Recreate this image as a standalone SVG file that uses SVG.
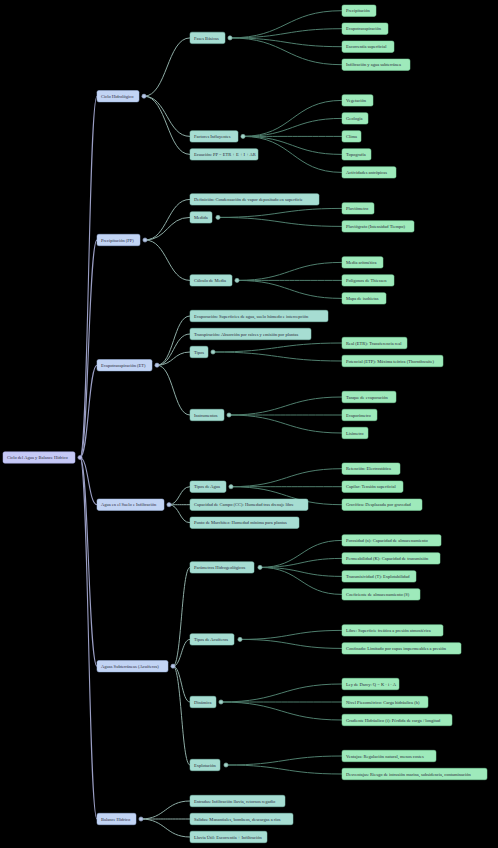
<svg xmlns="http://www.w3.org/2000/svg" width="498" height="848" viewBox="0 0 498 848">
<style>
.bg{fill:#000}
rect.n0{fill:#c6c9f6;stroke:#a9adea;stroke-width:.5}
rect.n1{fill:#c2d4f4;stroke:#a5bde8;stroke-width:.5}
rect.n2{fill:#a6ddd2;stroke:#86c9bb;stroke-width:.5}
rect.n3{fill:#9eeabb;stroke:#7dd9a0;stroke-width:.5}
text{font-family:"Liberation Serif","Times New Roman",serif;font-size:4.5px;fill:#2b2b3a}
.l0{fill:none;stroke:#9a9ec4;stroke-width:1.1}
.l1{fill:none;stroke:#8eaca5;stroke-width:1}
.l2{fill:none;stroke:#4f7e6d;stroke-width:1}
circle.d0{fill:#b8bce8;stroke:#8a8fb8;stroke-width:.6}
circle.d1{fill:#b6c6e6;stroke:#8b9cbc;stroke-width:.6}
circle.d2{fill:#9fd3c8;stroke:#7faaa0;stroke-width:.6}
</style>
<rect class="bg" x="0" y="0" width="498" height="848"/>
<g id="connectors">
<path class="l0" d="M80,457.5 C88.5,457.5 88.5,96.2 97,96.2"/>
<path class="l0" d="M80,457.5 C88.5,457.5 88.5,240 97,240"/>
<path class="l0" d="M80,457.5 C88.5,457.5 88.5,365.2 97,365.2"/>
<path class="l0" d="M80,457.5 C88.5,457.5 88.5,504.7 97,504.7"/>
<path class="l0" d="M80,457.5 C88.5,457.5 88.5,666.2 97,666.2"/>
<path class="l0" d="M80,457.5 C88.5,457.5 88.5,819 97,819"/>
<path class="l1" d="M144,96.2 C167,96.2 167,37.9 190,37.9"/>
<path class="l1" d="M144,96.2 C167,96.2 167,136.4 190,136.4"/>
<path class="l1" d="M144,96.2 C167,96.2 167,154.4 190,154.4"/>
<path class="l1" d="M145,240 C167.5,240 167.5,199.4 190,199.4"/>
<path class="l1" d="M145,240 C167.5,240 167.5,217.4 190,217.4"/>
<path class="l1" d="M145,240 C167.5,240 167.5,280.4 190,280.4"/>
<path class="l1" d="M157,365.2 C173.5,365.2 173.5,316 190,316"/>
<path class="l1" d="M157,365.2 C173.5,365.2 173.5,334 190,334"/>
<path class="l1" d="M157,365.2 C173.5,365.2 173.5,352 190,352"/>
<path class="l1" d="M157,365.2 C173.5,365.2 173.5,415 190,415"/>
<path class="l1" d="M169,504.7 C179.5,504.7 179.5,486.7 190,486.7"/>
<path class="l1" d="M169,504.7 C179.5,504.7 179.5,504.7 190,504.7"/>
<path class="l1" d="M169,504.7 C179.5,504.7 179.5,522.7 190,522.7"/>
<path class="l1" d="M173,666.2 C181.5,666.2 181.5,567.4 190,567.4"/>
<path class="l1" d="M173,666.2 C181.5,666.2 181.5,639.4 190,639.4"/>
<path class="l1" d="M173,666.2 C181.5,666.2 181.5,702 190,702"/>
<path class="l1" d="M173,666.2 C181.5,666.2 181.5,765 190,765"/>
<path class="l1" d="M141,819 C165.5,819 165.5,801 190,801"/>
<path class="l1" d="M141,819 C165.5,819 165.5,819 190,819"/>
<path class="l1" d="M141,819 C165.5,819 165.5,837 190,837"/>
<path class="l2" d="M230,37.9 C286,37.9 286,10.7 342,10.7"/>
<path class="l2" d="M230,37.9 C286,37.9 286,28.7 342,28.7"/>
<path class="l2" d="M230,37.9 C286,37.9 286,46.7 342,46.7"/>
<path class="l2" d="M230,37.9 C286,37.9 286,64.7 342,64.7"/>
<path class="l2" d="M243,136.4 C292.5,136.4 292.5,100.4 342,100.4"/>
<path class="l2" d="M243,136.4 C292.5,136.4 292.5,118.4 342,118.4"/>
<path class="l2" d="M243,136.4 C292.5,136.4 292.5,136.4 342,136.4"/>
<path class="l2" d="M243,136.4 C292.5,136.4 292.5,154.4 342,154.4"/>
<path class="l2" d="M243,136.4 C292.5,136.4 292.5,172.4 342,172.4"/>
<path class="l2" d="M218,217.4 C280,217.4 280,208.4 342,208.4"/>
<path class="l2" d="M218,217.4 C280,217.4 280,226.4 342,226.4"/>
<path class="l2" d="M237,280.4 C289.5,280.4 289.5,262.4 342,262.4"/>
<path class="l2" d="M237,280.4 C289.5,280.4 289.5,280.4 342,280.4"/>
<path class="l2" d="M237,280.4 C289.5,280.4 289.5,298.4 342,298.4"/>
<path class="l2" d="M213,352 C277.5,352 277.5,343 342,343"/>
<path class="l2" d="M213,352 C277.5,352 277.5,361 342,361"/>
<path class="l2" d="M229,415 C285.5,415 285.5,397 342,397"/>
<path class="l2" d="M229,415 C285.5,415 285.5,415 342,415"/>
<path class="l2" d="M229,415 C285.5,415 285.5,433 342,433"/>
<path class="l2" d="M231,486.7 C286.5,486.7 286.5,468.7 342,468.7"/>
<path class="l2" d="M231,486.7 C286.5,486.7 286.5,486.7 342,486.7"/>
<path class="l2" d="M231,486.7 C286.5,486.7 286.5,504.7 342,504.7"/>
<path class="l2" d="M260,567.4 C301,567.4 301,540.4 342,540.4"/>
<path class="l2" d="M260,567.4 C301,567.4 301,558.4 342,558.4"/>
<path class="l2" d="M260,567.4 C301,567.4 301,576.4 342,576.4"/>
<path class="l2" d="M260,567.4 C301,567.4 301,594.4 342,594.4"/>
<path class="l2" d="M240,639.4 C291,639.4 291,630.4 342,630.4"/>
<path class="l2" d="M240,639.4 C291,639.4 291,648.4 342,648.4"/>
<path class="l2" d="M221,702 C281.5,702 281.5,684 342,684"/>
<path class="l2" d="M221,702 C281.5,702 281.5,702 342,702"/>
<path class="l2" d="M221,702 C281.5,702 281.5,720 342,720"/>
<path class="l2" d="M226,765 C284,765 284,756 342,756"/>
<path class="l2" d="M226,765 C284,765 284,774 342,774"/>
</g>
<g id="root"><rect class="n0" x="3" y="451.8" width="72" height="11.4" rx="1.8"/><text x="7" y="459.1">Ciclo del Agua y Balance Hídrico</text><circle class="d0" cx="80" cy="457.5" r="2.1"/></g>
<g id="ciclo"><rect class="n1" x="97" y="90.5" width="42" height="11.4" rx="1.8"/><text x="101" y="97.8">Ciclo Hidrológico</text><circle class="d1" cx="144" cy="96.2" r="2.1"/></g>
<g id="precip"><rect class="n1" x="97" y="234.3" width="43" height="11.4" rx="1.8"/><text x="101" y="241.6">Precipitación (PP)</text><circle class="d1" cx="145" cy="240" r="2.1"/></g>
<g id="et"><rect class="n1" x="97" y="359.5" width="55" height="11.4" rx="1.8"/><text x="101" y="366.8">Evapotranspiración (ET)</text><circle class="d1" cx="157" cy="365.2" r="2.1"/></g>
<g id="suelo"><rect class="n1" x="97" y="499" width="67" height="11.4" rx="1.8"/><text x="101" y="506.3">Agua en el Suelo e Infiltración</text><circle class="d1" cx="169" cy="504.7" r="2.1"/></g>
<g id="subter"><rect class="n1" x="97" y="660.5" width="71" height="11.4" rx="1.8"/><text x="101" y="667.8">Aguas Subterráneas (Acuíferos)</text><circle class="d1" cx="173" cy="666.2" r="2.1"/></g>
<g id="balance"><rect class="n1" x="97" y="813.3" width="39" height="11.4" rx="1.8"/><text x="101" y="820.6">Balance Hídrico</text><circle class="d1" cx="141" cy="819" r="2.1"/></g>
<g id="fases"><rect class="n2" x="190" y="32.2" width="35" height="11.4" rx="1.8"/><text x="194" y="39.5">Fases Básicas</text><circle class="d2" cx="230" cy="37.9" r="2.1"/></g>
<g id="factores"><rect class="n2" x="190" y="130.7" width="48" height="11.4" rx="1.8"/><text x="194" y="138">Factores Influyentes</text><circle class="d2" cx="243" cy="136.4" r="2.1"/></g>
<g id="ecuacion"><rect class="n2" x="190" y="148.7" width="68" height="11.4" rx="1.8"/><text x="194" y="156">Ecuación: PP = ETR + E + I + AR</text></g>
<g id="definicion"><rect class="n2" x="190" y="193.7" width="129" height="11.4" rx="1.8"/><text x="194" y="201">Definición: Condensación de vapor depositado en superficie</text></g>
<g id="medida"><rect class="n2" x="190" y="211.7" width="22" height="11.4" rx="1.8"/><text x="194" y="219">Medida</text><circle class="d2" cx="218" cy="217.4" r="2.1"/></g>
<g id="calculo"><rect class="n2" x="190" y="274.7" width="42" height="11.4" rx="1.8"/><text x="194" y="282">Cálculo de Media</text><circle class="d2" cx="237" cy="280.4" r="2.1"/></g>
<g id="evaporacion"><rect class="n2" x="190" y="310.3" width="138" height="11.4" rx="1.8"/><text x="194" y="317.6">Evaporación: Superficies de agua, suelo húmedo e intercepción</text></g>
<g id="transpiracion"><rect class="n2" x="190" y="328.3" width="121" height="11.4" rx="1.8"/><text x="194" y="335.6">Transpiración: Absorción por raíces y emisión por plantas</text></g>
<g id="tipos"><rect class="n2" x="190" y="346.3" width="18" height="11.4" rx="1.8"/><text x="194" y="353.6">Tipos</text><circle class="d2" cx="213" cy="352" r="2.1"/></g>
<g id="instrumentos"><rect class="n2" x="190" y="409.3" width="34" height="11.4" rx="1.8"/><text x="194" y="416.6">Instrumentos</text><circle class="d2" cx="229" cy="415" r="2.1"/></g>
<g id="tiposagua"><rect class="n2" x="190" y="481" width="36" height="11.4" rx="1.8"/><text x="194" y="488.3">Tipos de Agua</text><circle class="d2" cx="231" cy="486.7" r="2.1"/></g>
<g id="capacidad"><rect class="n2" x="190" y="499" width="118" height="11.4" rx="1.8"/><text x="194" y="506.3">Capacidad de Campo (CC): Humedad tras drenaje libre</text></g>
<g id="marchitez"><rect class="n2" x="190" y="517" width="109" height="11.4" rx="1.8"/><text x="194" y="524.3">Punto de Marchitez: Humedad mínima para plantas</text></g>
<g id="parametros"><rect class="n2" x="190" y="561.7" width="64" height="11.4" rx="1.8"/><text x="194" y="569">Parámetros Hidrogeológicos</text><circle class="d2" cx="260" cy="567.4" r="2.1"/></g>
<g id="tiposacuiferos"><rect class="n2" x="190" y="633.7" width="44" height="11.4" rx="1.8"/><text x="194" y="641">Tipos de Acuíferos</text><circle class="d2" cx="240" cy="639.4" r="2.1"/></g>
<g id="dinamica"><rect class="n2" x="190" y="696.3" width="26" height="11.4" rx="1.8"/><text x="194" y="703.6">Dinámica</text><circle class="d2" cx="221" cy="702" r="2.1"/></g>
<g id="explotacion"><rect class="n2" x="190" y="759.3" width="30" height="11.4" rx="1.8"/><text x="194" y="766.6">Explotación</text><circle class="d2" cx="226" cy="765" r="2.1"/></g>
<g id="entradas"><rect class="n2" x="190" y="795.3" width="95" height="11.4" rx="1.8"/><text x="194" y="802.6">Entradas: Infiltración lluvia, retornos regadío</text></g>
<g id="salidas"><rect class="n2" x="190" y="813.3" width="103" height="11.4" rx="1.8"/><text x="194" y="820.6">Salidas: Manantiales, bombeos, descargas a ríos</text></g>
<g id="lluviautil"><rect class="n2" x="190" y="831.3" width="77" height="11.4" rx="1.8"/><text x="194" y="838.6">Lluvia Útil: Escorrentía + Infiltración</text></g>
<g id="l3-precipitacion"><rect class="n3" x="342" y="5" width="34" height="11.4" rx="1.8"/><text x="346" y="12.3">Precipitación</text></g>
<g id="l3-evapotranspiracion"><rect class="n3" x="342" y="23" width="46" height="11.4" rx="1.8"/><text x="346" y="30.3">Evapotranspiración</text></g>
<g id="l3-escorrentia"><rect class="n3" x="342" y="41" width="52" height="11.4" rx="1.8"/><text x="346" y="48.3">Escorrentía superficial</text></g>
<g id="l3-infiltracion"><rect class="n3" x="342" y="59" width="68" height="11.4" rx="1.8"/><text x="346" y="66.3">Infiltración y agua subterránea</text></g>
<g id="l3-vegetacion"><rect class="n3" x="342" y="94.7" width="31" height="11.4" rx="1.8"/><text x="346" y="102">Vegetación</text></g>
<g id="l3-geologia"><rect class="n3" x="342" y="112.7" width="26" height="11.4" rx="1.8"/><text x="346" y="120">Geología</text></g>
<g id="l3-clima"><rect class="n3" x="342" y="130.7" width="19" height="11.4" rx="1.8"/><text x="346" y="138">Clima</text></g>
<g id="l3-topografia"><rect class="n3" x="342" y="148.7" width="29" height="11.4" rx="1.8"/><text x="346" y="156">Topografía</text></g>
<g id="l3-antropicas"><rect class="n3" x="342" y="166.7" width="54" height="11.4" rx="1.8"/><text x="346" y="174">Actividades antrópicas</text></g>
<g id="l3-pluviometro"><rect class="n3" x="342" y="202.7" width="32" height="11.4" rx="1.8"/><text x="346" y="210">Pluviómetro</text></g>
<g id="l3-pluviografo"><rect class="n3" x="342" y="220.7" width="72" height="11.4" rx="1.8"/><text x="346" y="228">Pluviógrafo (Intensidad Tiempo)</text></g>
<g id="l3-aritmetica"><rect class="n3" x="342" y="256.7" width="41" height="11.4" rx="1.8"/><text x="346" y="264">Media aritmética</text></g>
<g id="l3-thiessen"><rect class="n3" x="342" y="274.7" width="52" height="11.4" rx="1.8"/><text x="346" y="282">Polígonos de Thiessen</text></g>
<g id="l3-isohietas"><rect class="n3" x="342" y="292.7" width="44" height="11.4" rx="1.8"/><text x="346" y="300">Mapa de isohietas</text></g>
<g id="l3-etr"><rect class="n3" x="342" y="337.3" width="65" height="11.4" rx="1.8"/><text x="346" y="344.6">Real (ETR): Transferencia real</text></g>
<g id="l3-etp"><rect class="n3" x="342" y="355.3" width="101" height="11.4" rx="1.8"/><text x="346" y="362.6">Potencial (ETP): Máxima teórica (Thornthwaite)</text></g>
<g id="l3-tanque"><rect class="n3" x="342" y="391.3" width="54" height="11.4" rx="1.8"/><text x="346" y="398.6">Tanque de evaporación</text></g>
<g id="l3-evaporimetro"><rect class="n3" x="342" y="409.3" width="35" height="11.4" rx="1.8"/><text x="346" y="416.6">Evaporímetro</text></g>
<g id="l3-lisimetro"><rect class="n3" x="342" y="427.3" width="26" height="11.4" rx="1.8"/><text x="346" y="434.6">Lisímetro</text></g>
<g id="l3-retencion"><rect class="n3" x="342" y="463" width="58" height="11.4" rx="1.8"/><text x="346" y="470.3">Retención: Electrostática</text></g>
<g id="l3-capilar"><rect class="n3" x="342" y="481" width="61" height="11.4" rx="1.8"/><text x="346" y="488.3">Capilar: Tensión superficial</text></g>
<g id="l3-gravifica"><rect class="n3" x="342" y="499" width="80" height="11.4" rx="1.8"/><text x="346" y="506.3">Gravífica: Desplazada por gravedad</text></g>
<g id="l3-porosidad"><rect class="n3" x="342" y="534.7" width="99" height="11.4" rx="1.8"/><text x="346" y="542">Porosidad (n): Capacidad de almacenamiento</text></g>
<g id="l3-permeabilidad"><rect class="n3" x="342" y="552.7" width="98" height="11.4" rx="1.8"/><text x="346" y="560">Permeabilidad (K): Capacidad de transmisión</text></g>
<g id="l3-transmisividad"><rect class="n3" x="342" y="570.7" width="74" height="11.4" rx="1.8"/><text x="346" y="578">Transmisividad (T): Explotabilidad</text></g>
<g id="l3-coeficiente"><rect class="n3" x="342" y="588.7" width="78" height="11.4" rx="1.8"/><text x="346" y="596">Coeficiente de almacenamiento (S)</text></g>
<g id="l3-libre"><rect class="n3" x="342" y="624.7" width="101" height="11.4" rx="1.8"/><text x="346" y="632">Libre: Superficie freática a presión atmosférica</text></g>
<g id="l3-confinado"><rect class="n3" x="342" y="642.7" width="119" height="11.4" rx="1.8"/><text x="346" y="650">Confinado: Limitado por capas impermeables a presión</text></g>
<g id="l3-darcy"><rect class="n3" x="342" y="678.3" width="57" height="11.4" rx="1.8"/><text x="346" y="685.6">Ley de Darcy: Q = K · i · A</text></g>
<g id="l3-piezometrico"><rect class="n3" x="342" y="696.3" width="86" height="11.4" rx="1.8"/><text x="346" y="703.6">Nivel Piezométrico: Carga hidráulica (h)</text></g>
<g id="l3-gradiente"><rect class="n3" x="342" y="714.3" width="110" height="11.4" rx="1.8"/><text x="346" y="721.6">Gradiente Hidráulico (i): Pérdida de carga / longitud</text></g>
<g id="l3-ventajas"><rect class="n3" x="342" y="750.3" width="94" height="11.4" rx="1.8"/><text x="346" y="757.6">Ventajas: Regulación natural, menos costes</text></g>
<g id="l3-desventajas"><rect class="n3" x="342" y="768.3" width="145" height="11.4" rx="1.8"/><text x="346" y="775.6">Desventajas: Riesgo de intrusión marina, subsidencia, contaminación</text></g>
</svg>
